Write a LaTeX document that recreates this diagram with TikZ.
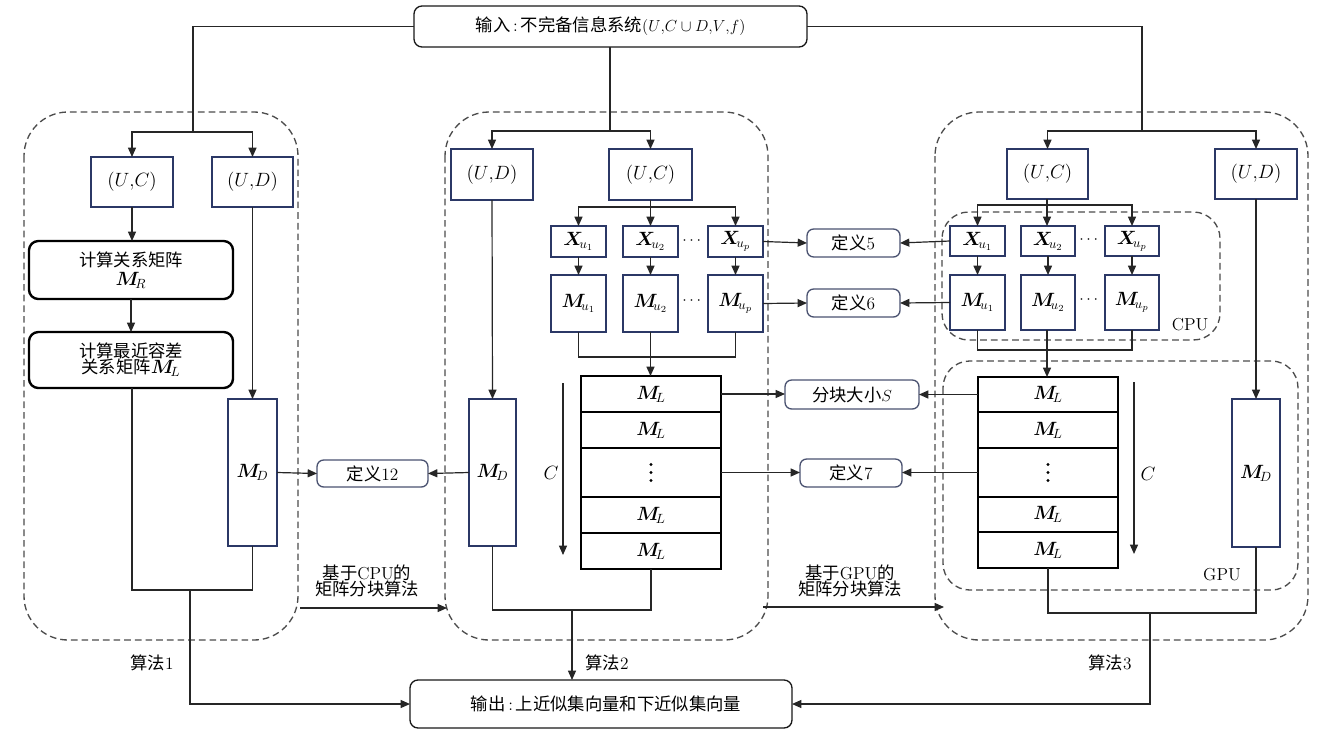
\documentclass[tikz,border=0pt]{standalone}
\usepackage{fontspec}
\usepackage{amsmath,bm}
\newfontfamily\cjk{Noto Sans CJK SC}
\usetikzlibrary{arrows.meta,fit}
\definecolor{navy}{HTML}{2B3866}
\definecolor{defc}{HTML}{4A5270}
\begin{document}
\begin{tikzpicture}[x=0.75pt,y=-0.75pt,
  font=\fontsize{13}{15}\selectfont,
  conn/.style={line width=0.9pt,draw=black!85},
  arr/.style={conn,-{Triangle[length=7pt,width=6pt]}},
  big/.style={font=\fontsize{14.5}{16}\selectfont},
  nbox/.style={draw=navy,line width=1.8pt,inner sep=0pt,outer sep=0pt},
  bbox/.style={draw=black,line width=1.8pt,rounded corners=7pt,inner sep=0pt,outer sep=0pt},
  dbox/.style={draw=defc,line width=1pt,rounded corners=5pt,inner sep=0pt,outer sep=0pt},
  rbox/.style={draw=black!90,line width=1pt,rounded corners=6pt,inner sep=0pt,outer sep=0pt},
  row/.style={draw=black,line width=1.5pt,inner sep=0pt,outer sep=0pt},
  region/.style={draw=black!70,line width=1pt,dash pattern=on 5pt off 3pt,rounded corners=33pt},
  sub/.style={draw=black!70,line width=1pt,dash pattern=on 5pt off 3pt,rounded corners=20pt},
  lab/.style={inner sep=0pt,align=center},
  mlab/.style={lab,big},
  vd/.style={fill=black,circle,inner sep=0pt,minimum size=2.4pt}]
\useasboundingbox (0,0) rectangle (1341,736);
% regions
\draw[region] (24,112) rectangle (298,640);
\draw[region] (445,112) rectangle (768,640);
\draw[region] (935,112) rectangle (1308,640);
\draw[sub] (942,212) rectangle (1220,340);
\draw[sub] (943,361) rectangle (1298,590);
% input / output
\node[rbox,fit={(414,6) (807,47)}] (in) {};
\node[lab] (intext) at (in.center) {{\cjk 输入}\,:\,{\cjk 不完备信息系统}$(U{,}C\cup D{,}V{,}f)$};
\node[rbox,fit={(410,680) (792,728)}] (out) {};
\node[lab] (outtext) at (606,704) {{\cjk 输出}\,:\,{\cjk 上近似集向量和下近似集向量}};
% ---------- left column ----------
\node[nbox,fit={(91,157) (173,207)}] (uc1) {};
\node[mlab] (tuc1) at (uc1.center) {$(U{,}C)$};
\node[nbox,fit={(212,157) (293,207)}] (ud1) {};
\node[mlab] (tud1) at (ud1.center) {$(U{,}D)$};
\node[bbox,fit={(29,241) (233,299)}] (mr) {};
\node[lab] (tmr) at (mr.center) {{\cjk 计算关系矩阵}\\[-1pt]{\fontsize{14.5}{16}\selectfont$\bm{M}_{\!R}$}};
\node[bbox,fit={(29,332) (233,388)}] (mlc) {};
\node[lab] (tmlc) at (mlc.center) {{\cjk 计算最近容差}\\[-3pt]{\cjk 关系矩阵}{\fontsize{14.5}{16}\selectfont$\bm{M}_{\!L}$}};
\node[nbox,fit={(228,399) (277,546)}] (md1) {};
\node[mlab] (tmd1) at (md1.center) {$\bm{M}_{\!D}$};
% ---------- definition boxes ----------
\node[dbox,fit={(317,460) (428,487)}] (d12) {};
\node[lab] (td12) at (d12.center) {{\cjk 定义}12};
\node[dbox,fit={(807,229) (900,257)}] (d5) {};
\node[lab] (td5) at (d5.center) {{\cjk 定义}5};
\node[dbox,fit={(807,289) (900,317)}] (d6) {};
\node[lab] (td6) at (d6.center) {{\cjk 定义}6};
\node[dbox,fit={(785,380) (919,409)}] (ds) {};
\node[lab] (tds) at (ds.center) {{\cjk 分块大小}$S$};
\node[dbox,fit={(800,459) (902,487)}] (d7) {};
\node[lab] (td7) at (d7.center) {{\cjk 定义}7};
% ---------- middle column ----------
\node[nbox,fit={(451,149) (533,200)}] (ud2) {};
\node[mlab] (tud2) at (ud2.center) {$(U{,}D)$};
\node[nbox,fit={(609,149) (692,200)}] (uc2) {};
\node[mlab] (tuc2) at (uc2.center) {$(U{,}C)$};
\node[nbox,fit={(551,226) (606,257)}] (xa2) {};
\node[mlab] (txa2) at (xa2.center) {$\bm{X}_{\!u_1}$};
\node[nbox,fit={(623,226) (678,257)}] (xb2) {};
\node[mlab] (txb2) at (xb2.center) {$\bm{X}_{\!u_2}$};
\node[nbox,fit={(708,226) (763,257)}] (xc2) {};
\node[mlab] (txc2) at (xc2.center) {$\bm{X}_{\!u_p}$};
\node[lab] (dx2) at (693,241) {$\cdots$};
\node[nbox,fit={(551,275) (606,332)}] (ma2) {};
\node[mlab] (tma2) at (ma2.center) {$\bm{M}_{\!u_1}$};
\node[nbox,fit={(623,275) (678,332)}] (mb2) {};
\node[mlab] (tmb2) at (mb2.center) {$\bm{M}_{\!u_2}$};
\node[nbox,fit={(708,275) (763,332)}] (mc2) {};
\node[mlab] (tmc2) at (mc2.center) {$\bm{M}_{\!u_p}$};
\node[lab] (dm2) at (693,301) {$\cdots$};
\node[nbox,fit={(469,399) (516,546)}] (md2) {};
\node[mlab] (tmd2) at (md2.center) {$\bm{M}_{\!D}$};
\node[row,fit={(581,376) (721,412)}] (ra2) {};
\node[mlab] at (ra2.center) {$\bm{M}_{\!L}$};
\node[row,fit={(581,412) (721,448)}] (rb2) {};
\node[mlab] at (rb2.center) {$\bm{M}_{\!L}$};
\node[row,fit={(581,448) (721,497)}] (rc2) {};
\node[row,fit={(581,497) (721,533)}] (rd2) {};
\node[mlab] at (rd2.center) {$\bm{M}_{\!L}$};
\node[row,fit={(581,533) (721,569)}] (re2) {};
\node[mlab] at (re2.center) {$\bm{M}_{\!L}$};
\foreach \yy in {-6,0,6} \node[vd] at ([yshift=\yy pt]rc2.center) {};
\coordinate (ct2) at (563,383);
\coordinate (cb2) at (563,555);
\draw[arr] (ct2) -- (cb2);
\node[mlab] (c2) at (551,473) {$C$};
% ---------- right column ----------
\node[nbox,fit={(1007,149) (1088,199)}] (uc3) {};
\node[mlab] at (uc3.center) {$(U{,}C)$};
\node[nbox,fit={(1215,149) (1297,199)}] (ud3) {};
\node[mlab] at (ud3.center) {$(U{,}D)$};
\node[nbox,fit={(950,226) (1005,256)}] (xa3) {};
\node[mlab] at (xa3.center) {$\bm{X}_{\!u_1}$};
\node[nbox,fit={(1021,226) (1075,256)}] (xb3) {};
\node[mlab] at (xb3.center) {$\bm{X}_{\!u_2}$};
\node[nbox,fit={(1105,226) (1159,256)}] (xc3) {};
\node[mlab] at (xc3.center) {$\bm{X}_{\!u_p}$};
\node[lab] (dx3) at (1090,240) {$\cdots$};
\node[nbox,fit={(950,275) (1005,330)}] (ma3) {};
\node[mlab] at (ma3.center) {$\bm{M}_{\!u_1}$};
\node[nbox,fit={(1021,275) (1075,330)}] (mb3) {};
\node[mlab] at (mb3.center) {$\bm{M}_{\!u_2}$};
\node[nbox,fit={(1105,275) (1159,330)}] (mc3) {};
\node[mlab] at (mc3.center) {$\bm{M}_{\!u_p}$};
\node[lab] (dm3) at (1090,300) {$\cdots$};
\node[lab] (cpu) at (1190,325) {CPU};
\node[row,fit={(978,377) (1118,412)}] (ra3) {};
\node[mlab] at (ra3.center) {$\bm{M}_{\!L}$};
\node[row,fit={(978,412) (1118,448)}] (rb3) {};
\node[mlab] at (rb3.center) {$\bm{M}_{\!L}$};
\node[row,fit={(978,448) (1118,497)}] (rc3) {};
\node[row,fit={(978,497) (1118,532)}] (rd3) {};
\node[mlab] at (rd3.center) {$\bm{M}_{\!L}$};
\node[row,fit={(978,532) (1118,568)}] (re3) {};
\node[mlab] at (re3.center) {$\bm{M}_{\!L}$};
\foreach \yy in {-6,0,6} \node[vd] at ([yshift=\yy pt]rc3.center) {};
\coordinate (ct3) at (1134,382);
\coordinate (cb3) at (1134,554);
\draw[arr] (ct3) -- (cb3);
\node[mlab] (c3) at (1148,474) {$C$};
\node[nbox,fit={(1232,399) (1280,547)}] (md3) {};
\node[mlab] at (md3.center) {$\bm{M}_{\!D}$};
\node[lab] (gpu) at (1222,575) {GPU};
% ---------- labels ----------
\node[lab] (alg1) at (152,663) {{\cjk 算法}1};
\node[lab] (alg2) at (607,663) {{\cjk 算法}2};
\node[lab] (alg3) at (1110,663) {{\cjk 算法}3};
\node[lab] (tcpu) at (367,581) {{\cjk 基于}CPU{\cjk 的}\\[-3pt]{\cjk 矩阵分块算法}};
\node[lab] (tgpu) at (850,581) {{\cjk 基于}GPU{\cjk 的}\\[-3pt]{\cjk 矩阵分块算法}};
% ---------- connectors from input ----------
\coordinate (sL) at (193,132);
\coordinate (sM) at (610,131);
\coordinate (sR) at (1142,131);
\draw[conn] (in.west) -| (sL);
\draw[conn] (in.east) -| (sR);
\draw[conn] (in.south -| sM) -- (sM);
\draw[arr] (sL) -| (uc1.north);
\draw[arr] (sL) -| (ud1.north);
\draw[arr] (sM) -| (ud2.north);
\draw[arr] (sM) -| (uc2.north);
\draw[arr] (sR) -| (uc3.north);
\draw[arr] (sR) -| (ud3.north);
% left
\draw[arr] (uc1.south) -- (uc1.south |- mr.north);
\draw[arr] (mr.south) -- (mlc.north);
\draw[arr] (ud1.south) -- (md1.north);
\draw[arr] (md1.east) -- (d12.west);
\coordinate (j1) at (190,590);
\draw[conn] (mlc.south -| uc1.south) |- (j1) -| (md1.south);
\draw[arr] (j1) |- (out.west);
% middle
\draw[arr] (ud2.south) -- (md2.north);
\draw[arr] (md2.west) -- (d12.east);
\coordinate (sX2) at (650.5,207);
\draw[conn] (uc2.south -| sX2) -- (sX2);
\draw[arr] (sX2) -| (xa2.north);
\draw[arr] (sX2) -- (xb2.north);
\draw[arr] (sX2) -| (xc2.north);
\draw[arr] (xa2.south) -- (ma2.north);
\draw[arr] (xb2.south) -- (mb2.north);
\draw[arr] (xc2.south) -- (mc2.north);
\coordinate (jm2) at (650.5,357);
\draw[conn] (ma2.south) |- (jm2) -| (mc2.south);
\draw[conn] (mb2.south) -- (jm2);
\draw[arr] (jm2) -- (jm2 |- ra2.north);
\draw[arr] (xc2.east) -- (d5.west);
\draw[arr] (mc2.east) -- (d6.west);
\draw[arr] (ra2.east) -- (ra2.east -| ds.west);
\draw[arr] (rc2.east) -- (rc2.east -| d7.west);
\coordinate (j2) at (572,610);
\draw[conn] (re2.south) |- (j2) -| (md2.south);
\draw[arr] (j2) -- (j2 |- out.north);
% right
\coordinate (sX3) at (1047,205);
\draw[conn] (uc3.south -| sX3) -- (sX3);
\draw[arr] (sX3) -| (xa3.north);
\draw[arr] (sX3) -- (xb3.north -| sX3);
\draw[arr] (sX3) -| (xc3.north);
\draw[arr] (xa3.south) -- (ma3.north);
\draw[arr] (xb3.south) -- (mb3.north);
\draw[arr] (xc3.south) -- (mc3.north);
\coordinate (jm3) at (1047,350);
\draw[conn] (ma3.south) |- (jm3) -| (mc3.south);
\draw[conn] (mb3.south -| jm3) -- (jm3);
\draw[arr] (jm3) -- (jm3 |- ra3.north);
\draw[arr] (xa3.west) -- (d5.east);
\draw[arr] (ma3.west) -- (d6.east);
\draw[arr] (ra3.west) -- (ra3.west -| ds.east);
\draw[arr] (rc3.west) -- (rc3.west -| d7.east);
\draw[arr] (ud3.south) -- (md3.north);
\coordinate (j3) at (1150,613);
\draw[conn] (re3.south) |- (j3) -| (md3.south);
\draw[arr] (j3) |- (out.east);
% inter-region arrows
\coordinate (a1s) at (300,608);
\coordinate (a1e) at (447,608);
\coordinate (a2s) at (763,607);
\coordinate (a2e) at (944,607);
\draw[arr] (a1s) -- (a1e);
\draw[arr] (a2s) -- (a2e);
\end{tikzpicture}
\end{document}
